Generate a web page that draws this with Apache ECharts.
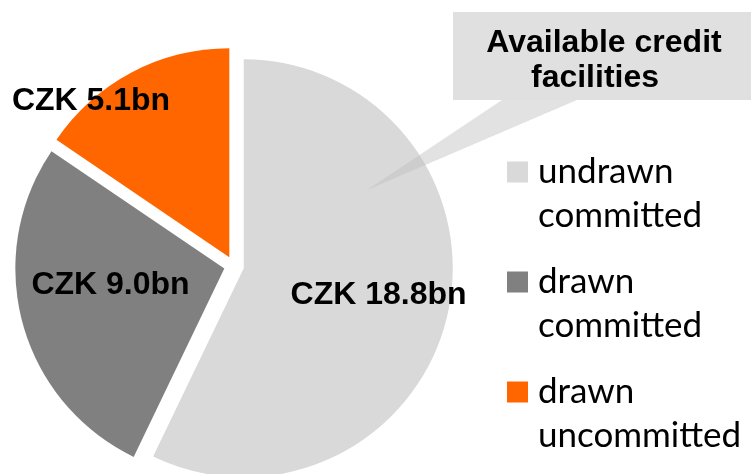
<!DOCTYPE html>
<html lang="en">
<head>
<meta charset="UTF-8">
<script src="https://cdn.jsdelivr.net/npm/echarts@6.0.0/dist/echarts.min.js"></script>
<style>
    html, body { margin: 0; padding: 0; background: #fff; }
    #main { width: 751px; height: 474px; }
</style>
</head>
<body>
<div id="main"></div>
<script>
var names = ['undrawn committed', 'drawn committed', 'drawn uncommitted'];
var values = [18.8, 9.0, 5.1];          // CZK bn
var colors = ['#D9D9D9', '#808080', '#FF6600'];
// move each value label from the 'inside' spot to where it sits in the original
var labelShift = [[30, 3], [-10, -11], [-88, -61]];

var myChart = echarts.init(document.getElementById('main'));

var pieData = names.map(function (n, i) {
    return { name: n, value: values[i], selected: true, itemStyle: { color: colors[i] } };
});

var option = {
    animation: false,
    legend: {
        orient: 'vertical',
        left: 507,
        top: 150,
        padding: 0,
        itemGap: 22,
        itemWidth: 26,
        itemHeight: 65,
        // square on the first text line, the rest of the box is empty
        icon: 'path://M0,0H21V21H0Z M26,65L26,65.01',
        selectedMode: false,
        itemStyle: { borderWidth: 0 },
        formatter: function (n) { return n.replace(' ', '\n'); },
        textStyle: { fontFamily: 'Lato', fontSize: 35, lineHeight: 44, color: '#000' },
        data: names
    },
    graphic: [
        {
            type: 'rect', z: 100,
            shape: { x: 453, y: 12, width: 298, height: 88 },
            style: { fill: '#E0E0E0' }
        },
        {
            type: 'polygon', z: 100,
            shape: { points: [[502, 100], [577, 100], [367, 190]] },
            style: { fill: 'rgba(190,190,190,0.45)' }
        },
        {
            type: 'text', z: 101, x: 604, y: 43,
            style: { text: 'Available credit', font: 'bold 32px "Liberation Sans"', fill: '#000', align: 'center', verticalAlign: 'middle' }
        },
        {
            type: 'text', z: 101, x: 595, y: 78,
            style: { text: 'facilities', font: 'bold 32px "Liberation Sans"', fill: '#000', align: 'center', verticalAlign: 'middle' }
        }
    ],
    series: [
        {
            type: 'pie',
            center: [234, 266],
            radius: 209,
            startAngle: 90,
            clockwise: true,
            selectedMode: 'multiple',
            selectedOffset: 10,
            avoidLabelOverlap: false,
            itemStyle: { borderWidth: 0 },
            label: {
                show: true,
                position: 'inside',
                fontFamily: 'Liberation Sans',
                fontWeight: 'bold',
                fontSize: 32,
                color: '#000',
                formatter: function (p) { return 'CZK ' + p.value.toFixed(1) + 'bn'; }
            },
            labelLine: { show: false },
            labelLayout: function (p) {
                var s = labelShift[p.dataIndex];
                return { dx: s[0], dy: s[1] };
            },
            data: pieData
        }
    ]
};
myChart.setOption(option);
</script>
</body>
</html>
